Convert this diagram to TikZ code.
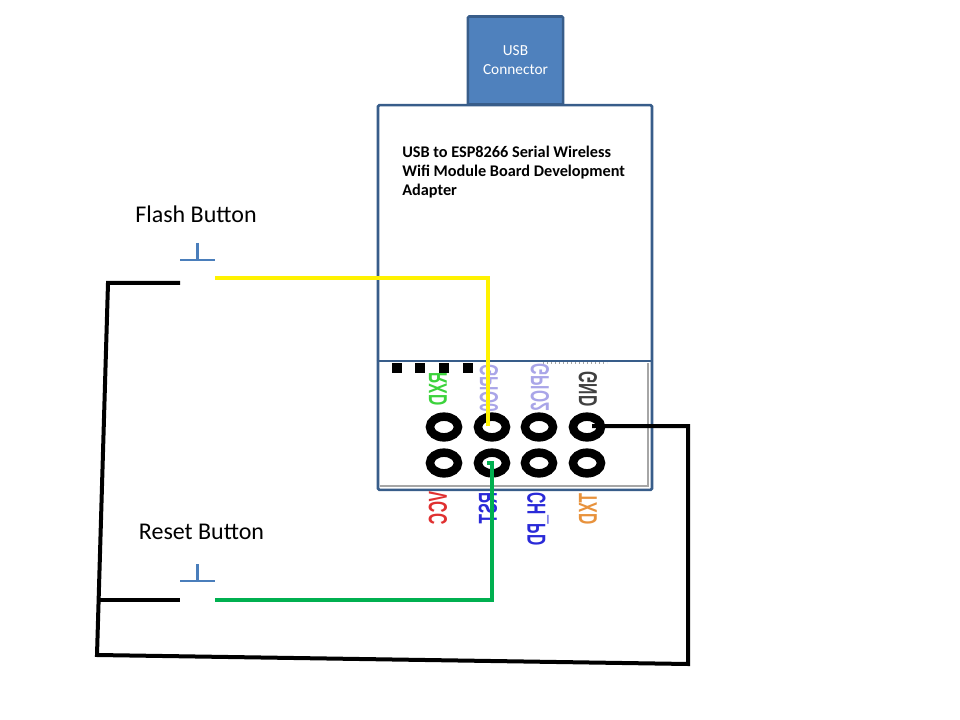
\documentclass[tikz,border=0pt]{standalone}
\usepackage{fontspec}
\usetikzlibrary{shapes.geometric}
\setmainfont{Carlito}
\newfontfamily\pinfont{Liberation Sans}
\definecolor{shapeline}{HTML}{385D8A}
\definecolor{shapefill}{HTML}{4F81BD}
\definecolor{btnblue}{HTML}{4A7EBB}
\definecolor{wyellow}{HTML}{FFF200}
\definecolor{wgreen}{HTML}{00B050}
\definecolor{pgreen}{HTML}{3CD33C}
\definecolor{plav}{HTML}{A9A5E8}
\definecolor{pred}{HTML}{E03030}
\definecolor{pblue}{HTML}{2A2AD8}
\definecolor{porange}{HTML}{E8923C}
\tikzset{
  x=0.75pt,y=-0.75pt,
  boxline/.style={draw=shapeline,line width=1.9pt},
  pad/.style={ellipse,draw=black,line width=6.4pt,minimum width=21pt,minimum height=15.5pt,inner sep=0pt,fill=white},
  wire/.style={line width=3pt,line join=miter},
  btn/.style={draw=btnblue,line width=1.6pt},
  pinlabel/.style={rotate=90,inner sep=0pt,font=\pinfont\bfseries\fontsize{13}{13}\selectfont},
  caption/.style={font=\fontsize{18}{20}\selectfont,inner sep=0pt,anchor=center},
  hole/.style={fill=black,minimum width=8.2pt,minimum height=7.5pt,inner sep=0pt}
}
\newcommand{\pintext}[1]{\scalebox{-0.9}[1.5]{#1}}
\begin{document}
\begin{tikzpicture}
\useasboundingbox (0,0) rectangle (960,720);
\fill[white] (0,0) rectangle (960,720);
% USB connector
\node[boxline,fill=shapefill,rounded corners=1pt,minimum width=71.5pt,minimum height=66pt,inner sep=0pt,
  text=white,align=center,font=\fontsize{11.5}{14.2}\selectfont] (usb) at (515.5,60.5) {USB\\Connector};
% Board
\node[boxline,fill=white,minimum width=205.5pt,minimum height=288.5pt,inner sep=0pt,rounded corners=1pt] (board) at (515,297.5) {};
\node[anchor=north west,inner sep=0pt,align=left,font=\fontsize{12.2}{14.25}\selectfont\bfseries] (title) at (402,146)
  {USB to ESP8266 Serial Wireless\\Wifi Module Board Development\\Adapter};
% Photo of the module
\coordinate (pa) at (648,363);
\coordinate (pb) at (648,486);
\coordinate (pc) at (380,486);
\draw[gray!70,line width=1.5pt] (pa) -- (pb) -- (pc);
\coordinate (dotA) at (543,363);
\coordinate (dotB) at (607,363);
\draw[gray!70,line width=1pt,dotted] (dotA) -- (dotB);
\draw[boxline] (board.west |- 0,361) coordinate (divl) -- (board.east |- 0,361) coordinate (divr);
\node[hole] (h1) at (397,368) {};
\node[hole] (h2) at (420,368) {};
\node[hole] (h3) at (444,368) {};
\node[hole] (h4) at (468,368) {};
% Pin labels
\node[pinlabel,text=pgreen] (lrxd) at (438,389) {\pintext{RXD}};
\node[pinlabel,text=plav] (lgp0) at (489,388) {\pintext{GPIO0}};
\node[pinlabel,text=plav] (lgp2) at (540,387) {\pintext{GPIO2}};
\node[pinlabel,text=black!75] (lgnd) at (588,389) {\pintext{GND}};
\node[pinlabel,text=pred] (lvcc) at (438,508) {\pintext{VCC}};
\node[pinlabel,text=pblue] (lrst) at (488,508) {\pintext{RST}};
\node[pinlabel,text=pblue] (lch) at (538,519) {\pintext{CH\_PD}};
\node[pinlabel,text=porange] (ltxd) at (588,509) {\pintext{TXD}};
% Pads
\node[pad] (p1) at (444,427) {};
\node[pad] (p2) at (492,427) {};
\node[pad] (p3) at (539,427) {};
\node[pad] (p4) at (587,427) {};
\node[pad] (p5) at (444,463) {};
\node[pad] (p6) at (492,463) {};
\node[pad] (p7) at (539,463) {};
\node[pad] (p8) at (587,463) {};
% Buttons
\node[caption] (flash) at (196,214) {Flash Button};
\node[caption] (reset) at (201.5,532) {Reset Button};
\coordinate (fl) at (180,260); \coordinate (fr) at (215,260);
\coordinate (ft) at (197.5,243); \coordinate (fm) at (197.5,260);
\coordinate (rl) at (180,581); \coordinate (rr) at (215,581);
\coordinate (rt) at (197.5,564); \coordinate (rm) at (197.5,581);
\draw[btn] (fl) -- (fr);
\draw[btn] (ft) -- (fm);
\draw[btn] (rl) -- (rr);
\draw[btn] (rt) -- (rm);
% Wires
\coordinate (yA) at (215,278); \coordinate (yB) at (488,278); \coordinate (yC) at (488,426);
\draw[wire,wyellow] (yA) -- (yB) -- (yC);
\coordinate (gA) at (215,600); \coordinate (gB) at (492,600); \coordinate (gC) at (492,463); \coordinate (gD) at (487,463);
\draw[wire,wgreen] (gA) -- (gB) -- (gC) -- (gD);
\coordinate (kA) at (592,426); \coordinate (kB) at (688,426); \coordinate (kC) at (688,664);
\coordinate (kD) at (97,655); \coordinate (kE) at (108,283); \coordinate (kF) at (180,283);
\coordinate (kG) at (99,600); \coordinate (kH) at (180,600);
\draw[wire,black] (kA) -- (kB) -- (kC) -- (kD) -- (kE) -- (kF);
\draw[wire,black] (kG) -- (kH);
\end{tikzpicture}
\end{document}
